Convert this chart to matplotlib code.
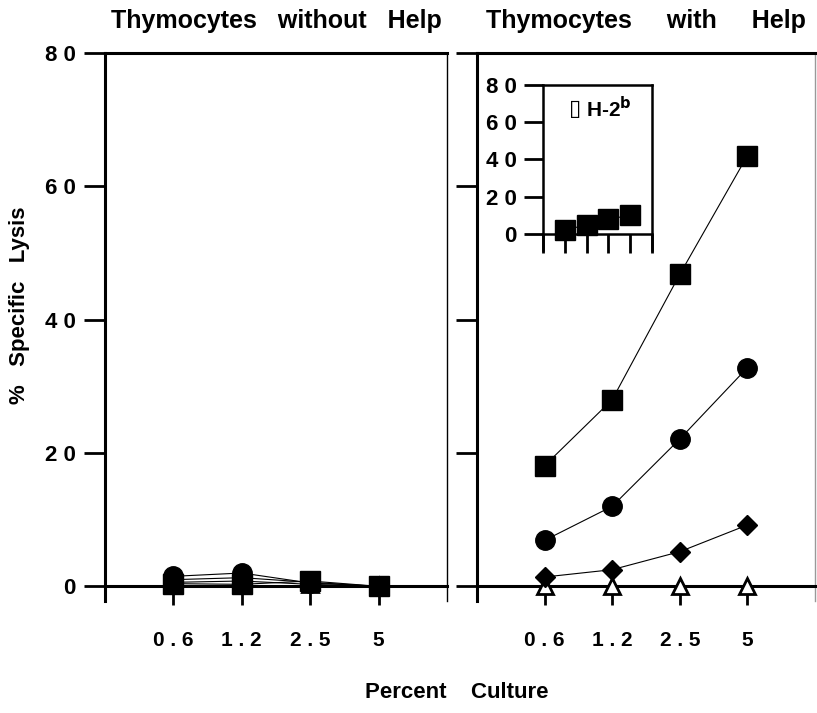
import matplotlib.pyplot as plt

plt.rcParams['font.family'] = ['Liberation Sans', 'DejaVu Sans']
plt.rcParams['font.weight'] = 'bold'

# categories (percent culture)
doses = ["0 . 6", "1 . 2", "2 . 5", "5"]
xpos = [1, 2, 3, 4]

# thymocytes without help
wo_square = [0.4, 0.3, 0.8, 0.0]
wo_circle = [1.5, 2.0, 0.5, 0.0]
wo_diamond = [1.0, 1.3, 0.6, 0.0]
wo_triangle = [0.6, 0.8, 0.3, 0.0]

# thymocytes with help
w_square = [18.1, 28.0, 46.8, 64.6]
w_circle = [6.9, 12.0, 22.1, 32.8]
w_diamond = [1.4, 2.5, 5.2, 9.2]
w_triangle = [0.0, 0.0, 0.0, 0.0]

# inset H-2b
inset_vals = [2.0, 5.0, 8.0, 10.0]

yticks = [0, 20, 40, 60, 80]
ylabels = ["0", "2 0", "4 0", "6 0", "8 0"]

fig = plt.figure(figsize=(8.17, 7.13), dpi=100)
W, H = 817, 713

def px_axes(x0, y0, x1, y1):
    return fig.add_axes([x0 / W, 1 - y1 / H, (x1 - x0) / W, (y1 - y0) / H])

ax1 = px_axes(105, 53, 447, 601)
ax2 = px_axes(477, 53, 815, 601)

sq = dict(marker='s', ms=14, mfc='black', mec='black')
ci = dict(marker='o', ms=14, mfc='black', mec='black')
di = dict(marker='D', ms=10.5, mfc='black', mec='black')
tr = dict(marker='^', ms=12, mfc='white', mec='black', mew=2)

for ax, data in [(ax1, [wo_triangle, wo_diamond, wo_square, wo_circle]),
                 (ax2, [w_triangle, w_diamond, w_square, w_circle])]:
    for vals, st in zip(data, [tr, di, sq, ci]):
        ax.plot(xpos, vals, color='black', lw=0.8, zorder=5, clip_on=False, **st)
    ax.set_xlim(0, 5)
    ax.set_ylim(-2.2, 80)
    ax.set_xticks(xpos)
    ax.set_xticklabels(doses)
    ax.set_yticks(yticks)
    ax.spines['bottom'].set_position(('data', 0))
    for s in ['bottom', 'left', 'top']:
        ax.spines[s].set_linewidth(2.2)
    ax.spines['right'].set_linewidth(1.0)
    ax.tick_params(axis='x', direction='out', length=14, width=2, pad=18, labelsize=15)
    ax.tick_params(axis='y', direction='out', length=15, width=2, pad=6, labelsize=16)

ax1.set_yticklabels(ylabels)
ax2.set_yticklabels([])
ax2.spines['right'].set_color('#999999')

ax1.set_title("Thymocytes   without   Help", fontsize=18, fontweight='bold', pad=18)
ax2.set_title("Thymocytes     with     Help", fontsize=18, fontweight='bold', pad=18)

fig.text(20 / W, 1 - 305 / H, "%   Specific   Lysis", rotation=90, ha='center', va='center',
         fontsize=16, fontweight='bold')
fig.text(457 / W, 1 - 692 / H, "Percent    Culture", ha='center', va='center',
         fontsize=16, fontweight='bold')

# inset
ax3 = px_axes(543, 85, 652, 250)
ax3.plot(xpos, inset_vals, color='black', lw=0.8, clip_on=False, zorder=5, **sq)
ax3.set_xlim(0, 5)
ax3.set_ylim(-8.6, 80)
ax3.set_xticks([0, 1, 2, 3, 4, 5])
ax3.set_xticklabels([])
ax3.set_yticks(yticks)
ax3.set_yticklabels(ylabels)
ax3.spines['bottom'].set_position(('data', 0))
for s in ax3.spines.values():
    s.set_linewidth(1.8)
ax3.tick_params(direction='out', length=14, width=2, pad=5, labelsize=16)
ax3.text(0.29, 0.855, "\u25af", transform=ax3.transAxes, ha='center', va='center',
         fontsize=16, family='DejaVu Sans')
ax3.text(0.39, 0.855, "H-2$^\\mathbf{b}$", transform=ax3.transAxes, ha='left', va='center',
         fontsize=15, fontweight='bold')

plt.savefig("out.png", dpi=100)
